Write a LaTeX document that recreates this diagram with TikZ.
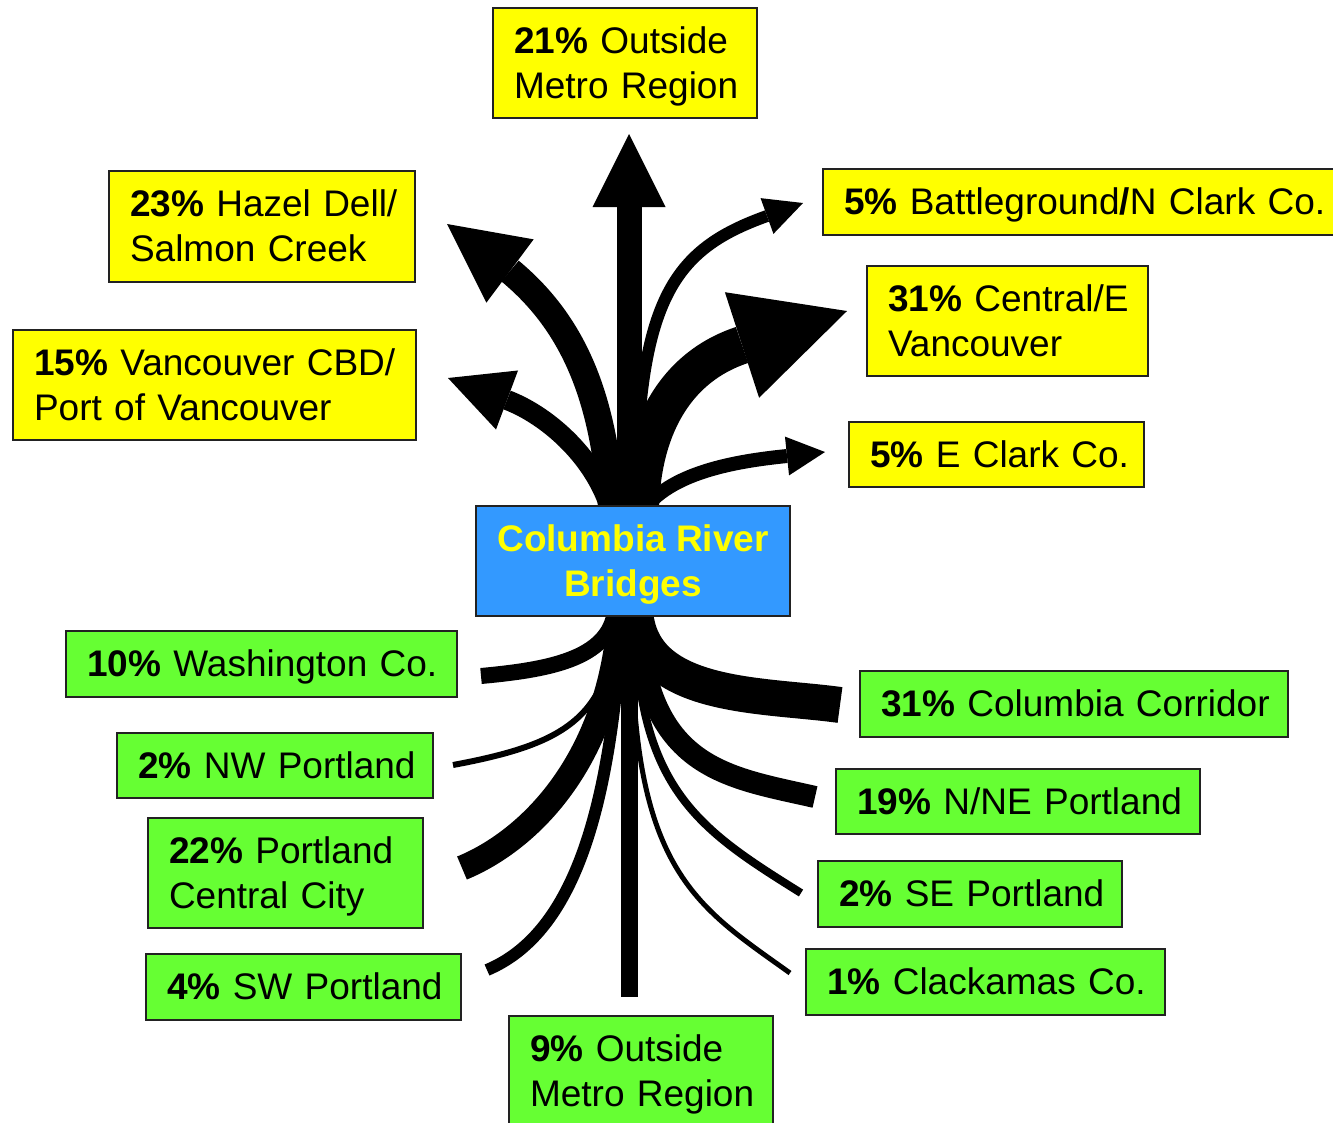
\documentclass[tikz,border=0pt]{standalone}
\usepackage{fontspec}
\setmainfont{Liberation Sans}
\usetikzlibrary{calc}
\definecolor{ylw}{HTML}{FFFF00}
\definecolor{grn}{HTML}{66FF33}
\definecolor{blu}{HTML}{3399FF}
\definecolor{edgec}{HTML}{222222}
\pgfdeclarelayer{bg}
\pgfsetlayers{bg,main}
\newcommand{\myline}[1]{\mbox{\rule[-7.8pt]{0pt}{41.3pt}#1}}
\begin{document}
\begin{tikzpicture}[x=1pt,y=-1pt,
  font=\fontsize{37}{45}\selectfont,
  lbl/.style={draw=edgec, line width=2pt, inner xsep=21pt, inner ysep=0pt, align=left},
  ybox/.style={lbl, fill=ylw},
  gbox/.style={lbl, fill=grn},
  flow/.style={draw=black, line cap=butt}]
\useasboundingbox (0,0) rectangle (1333,1122);

% ---------- label boxes ----------
\node[ybox, text width=222pt, minimum height=110pt] (t21) at (625,63)
  {\myline{\textbf{21\%} Outside}\\\myline{Metro Region}};
\node[ybox, text width=264pt, minimum height=111pt] (hz) at (262,226.5)
  {\myline{\textbf{23\%} Hazel Dell/}\\\myline{Salmon Creek}};
\node[ybox, text width=361pt, minimum height=110pt] (cbd) at (214.5,385)
  {\myline{\textbf{15\%} Vancouver CBD/}\\\myline{Port of Vancouver}};
\node[ybox, text width=490pt, minimum height=66pt] (bg) at (1089,202)
  {\myline{\textbf{5\%} Battleground\textbf{/}N Clark Co.}};
\node[ybox, text width=239pt, minimum height=110pt] (cv) at (1007.5,321)
  {\myline{\textbf{31\%} Central/E}\\\myline{Vancouver}};
\node[ybox, text width=253pt, minimum height=65pt] (ec) at (996.5,454.5)
  {\myline{\textbf{5\%} E Clark Co.}};

\node[lbl, fill=blu, text=ylw, align=center, minimum width=314pt, minimum height=110pt, font=\fontsize{37}{45}\selectfont\bfseries] (crb) at (633,561)
  {\myline{Columbia River}\\\myline{Bridges}};

\node[gbox, text width=349pt, minimum height=66pt] (wa) at (261.5,664)
  {\myline{\textbf{10\%} Washington Co.}};
\node[gbox, text width=386pt, minimum height=66pt] (cc) at (1074,704)
  {\myline{\textbf{31\%} Columbia Corridor}};
\node[gbox, text width=274pt, minimum height=65pt] (nw) at (275,765.5)
  {\myline{\textbf{2\%} NW Portland}};
\node[gbox, text width=322pt, minimum height=65pt] (nne) at (1018,801.5)
  {\myline{\textbf{19\%} N/NE Portland}};
\node[gbox, text width=233pt, minimum height=110pt] (pcc) at (285.5,873)
  {\myline{\textbf{22\%} Portland}\\\myline{Central City}};
\node[gbox, text width=262pt, minimum height=66pt] (se) at (970,894)
  {\myline{\textbf{2\%} SE Portland}};
\node[gbox, text width=273pt, minimum height=66pt] (sw) at (303.5,987)
  {\myline{\textbf{4\%} SW Portland}};
\node[gbox, text width=317pt, minimum height=66pt] (cl) at (985.5,982)
  {\myline{\textbf{1\%} Clackamas Co.}};
\node[gbox, text width=222pt, minimum height=110pt] (b9) at (641,1071)
  {\myline{\textbf{9\%} Outside}\\\myline{Metro Region}};

% ---------- named flow points ----------
% top (north) flows
\coordinate (rv) at (629,515);  \coordinate (v-b) at (629,207);  \coordinate (v-t) at (629,134);
\coordinate (rhz) at (612,515); \coordinate (hz-b) at (510,271); \coordinate (hz-t) at (447,224);
\coordinate (rcbd) at (612,515);\coordinate (cbd-b) at (507,400);\coordinate (cbd-t) at (448,378);
\coordinate (rbg) at (636,515); \coordinate (bg-b) at (767,216); \coordinate (bg-t) at (803,203);
\coordinate (rcv) at (640,515); \coordinate (cv-b) at (742,345); \coordinate (cv-t) at (847,311);
\coordinate (rec) at (640,515); \coordinate (ec-b) at (787,456); \coordinate (ec-t) at (825,452);
% bottom (south) flows
\coordinate (rwa) at (615,610);  \coordinate (wa-e) at (481,676);
\coordinate (rnw) at (615,620);  \coordinate (nw-e) at (453,765);
\coordinate (rpcc) at (620,615); \coordinate (pcc-e) at (462,868);
\coordinate (rsw) at (622,620);  \coordinate (sw-e) at (487,970);
\coordinate (rdn) at (629,610);  \coordinate (dn-e) at (629,997);
\coordinate (rcc) at (635,610);  \coordinate (cc-e) at (840,705);
\coordinate (rnne) at (638,615); \coordinate (nne-e) at (815,797);
\coordinate (rse) at (635,620);  \coordinate (se-e) at (801,893);
\coordinate (rcl) at (632,620);  \coordinate (cl-e) at (790,973);

\begin{pgfonlayer}{bg}
% north shafts
\draw[flow, line width=25pt] (rv) -- (v-b);
\draw[flow, line width=27pt] (rhz) .. controls (605,400) and (575,325) .. (hz-b);
\draw[flow, line width=20pt] (rcbd) .. controls (598,460) and (549,416) .. (cbd-b);
\draw[flow, line width=12pt] (rbg) .. controls (636,300) and (672,250) .. (bg-b);
\draw[flow, line width=38pt] (rcv) .. controls (640,430) and (675,367) .. (cv-b);
\draw[flow, line width=14pt] (rec) .. controls (665,475) and (727,462) .. (ec-b);
% north heads
\fill ($(v-b)!36.5pt!90:(v-t)$) -- (v-t) -- ($(v-b)!36.5pt!-90:(v-t)$) -- cycle;
\fill ($(hz-b)!39.5pt!90:(hz-t)$) -- (hz-t) -- ($(hz-b)!39.5pt!-90:(hz-t)$) -- cycle;
\fill ($(cbd-b)!31.5pt!90:(cbd-t)$) -- (cbd-t) -- ($(cbd-b)!31.5pt!-90:(cbd-t)$) -- cycle;
\fill ($(bg-b)!19pt!90:(bg-t)$) -- (bg-t) -- ($(bg-b)!19pt!-90:(bg-t)$) -- cycle;
\fill ($(cv-b)!55.5pt!90:(cv-t)$) -- (cv-t) -- ($(cv-b)!55.5pt!-90:(cv-t)$) -- cycle;
\fill ($(ec-b)!19.5pt!90:(ec-t)$) -- (ec-t) -- ($(ec-b)!19.5pt!-90:(ec-t)$) -- cycle;
% south flows
\draw[flow, line width=16pt] (rwa) .. controls (610,660) and (545,670) .. (wa-e);
\draw[flow, line width=6pt] (rnw) .. controls (610,720) and (560,745) .. (nw-e);
\draw[flow, line width=25pt] (rpcc) .. controls (610,760) and (530,840) .. (pcc-e);
\draw[flow, line width=12pt] (rsw) .. controls (610,820) and (570,935) .. (sw-e);
\draw[flow, line width=17pt] (rdn) -- (dn-e);
\draw[flow, line width=36pt] (rcc) .. controls (640,700) and (761,694) .. (cc-e);
\draw[flow, line width=22pt] (rnne) .. controls (645,770) and (728,777) .. (nne-e);
\draw[flow, line width=8pt] (rse) .. controls (638,790) and (700,830) .. (se-e);
\draw[flow, line width=5pt] (rcl) .. controls (630,870) and (695,905) .. (cl-e);
\end{pgfonlayer}
\end{tikzpicture}
\end{document}
